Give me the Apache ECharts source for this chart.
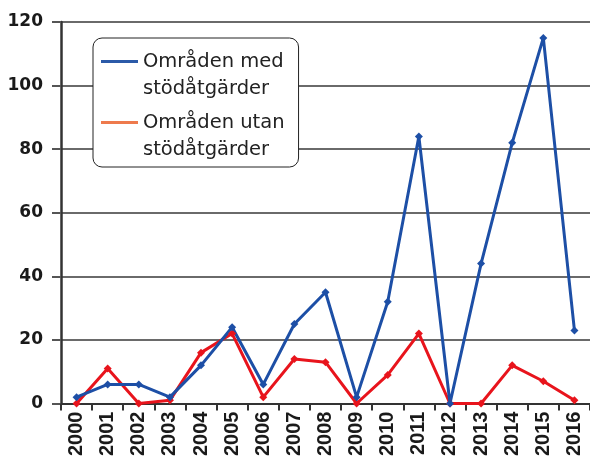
<!DOCTYPE html>
<html>
<head>
<meta charset="utf-8">
<script src="https://cdn.jsdelivr.net/npm/echarts@6/dist/echarts.min.js"></script>
<style>
  html, body { margin: 0; padding: 0; background: #fff; }
  #main { width: 590px; height: 459px; }
</style>
</head>
<body>
<div id="main"></div>
<script>
var myChart = echarts.init(document.getElementById('main'));

// data
var years = ['2000', '2001', '2002', '2003', '2004', '2005', '2006', '2007', '2008',
             '2009', '2010', '2011', '2012', '2013', '2014', '2015', '2016'];
var medStod = [2, 6, 6, 2, 12, 24, 6, 25, 35, 2, 32, 84, 0, 44, 82, 115, 23];
var utanStod = [0, 11, 0, 1, 16, 22, 2, 14, 13, 0, 9, 22, 0, 0, 12, 7, 1];
var seriesNames = ['Områden med\nstödåtgärder', 'Områden utan\nstödåtgärder'];

var blue = '#1d4fa6';
var red = '#e8141c';

// legend line sits at the top of a 37x30 box so it lines up with the first text line
var legendLine = 'path://M0,0L37,0L37,3L0,3Z M0,30L37,30Z';

var option = {
    backgroundColor: '#fff',
    animation: false,
    grid: {
        left: 61,
        right: -4,
        top: 22,
        bottom: 55
    },
    legend: {
        orient: 'vertical',
        left: 93,
        top: 38,
        padding: [10, 14, 4, 8],
        itemGap: 7,
        itemWidth: 37,
        itemHeight: 30,
        icon: legendLine,
        backgroundColor: '#fff',
        borderColor: '#222',
        borderWidth: 1,
        borderRadius: 9,
        data: [
            { name: seriesNames[0], itemStyle: { color: '#2b5aa8' } },
            { name: seriesNames[1], itemStyle: { color: '#ee7a4d' } }
        ],
        textStyle: {
            fontFamily: 'DejaVu Sans',
            fontSize: 19.5,
            lineHeight: 27,
            color: '#222'
        }
    },
    xAxis: {
        type: 'category',
        data: years,
        boundaryGap: true,
        axisLine: { lineStyle: { color: '#333', width: 2 } },
        axisTick: { show: true, length: 7, lineStyle: { color: '#333', width: 2 } },
        axisLabel: {
            rotate: 90,
            margin: 8,
            fontFamily: 'Liberation Sans',
            fontWeight: 'bold',
            fontSize: 20,
            color: '#1a1a1a'
        }
    },
    yAxis: {
        type: 'value',
        min: 0,
        max: 120,
        interval: 20,
        axisLine: { show: true, lineStyle: { color: '#333', width: 2.5 } },
        axisTick: { show: true, length: 9, lineStyle: { color: '#555', width: 2 } },
        splitLine: { lineStyle: { color: '#6a6a6a', width: 2 } },
        axisLabel: {
            margin: 18,
            fontFamily: 'DejaVu Sans',
            fontWeight: 'bold',
            fontSize: 17,
            color: '#1a1a1a',
            padding: [0, 0, 8, 0]
        }
    },
    series: [
        {
            name: seriesNames[1],
            type: 'line',
            data: utanStod,
            symbol: 'diamond',
            symbolSize: 8,
            color: red,
            lineStyle: { color: red, width: 3 },
            itemStyle: { color: red }
        },
        {
            name: seriesNames[0],
            type: 'line',
            data: medStod,
            symbol: 'diamond',
            symbolSize: 8,
            color: blue,
            lineStyle: { color: blue, width: 3 },
            itemStyle: { color: blue }
        }
    ]
};

myChart.setOption(option);
</script>
</body>
</html>
